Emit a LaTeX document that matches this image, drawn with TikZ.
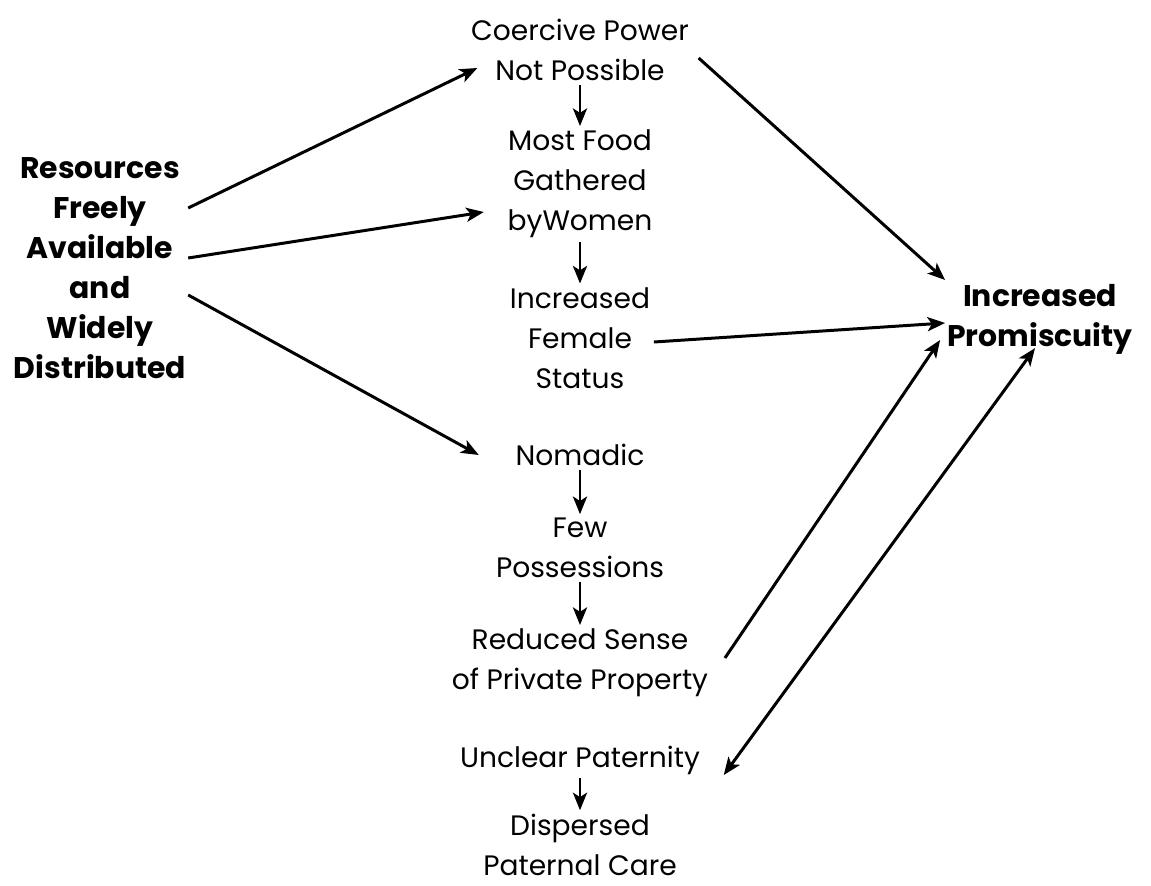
\documentclass[tikz,border=0pt]{standalone}
\usepackage{fontspec}
\setmainfont{Poppins}
\usetikzlibrary{arrows.meta}
\tikzstyle{cause} = [text centered, align=center, inner sep=1pt, font=\bfseries\fontsize{17}{22.8}\selectfont]
\tikzstyle{effect} = [text centered, align=center, inner sep=2pt, font=\fontsize{16}{22.8}\selectfont]
\tikzstyle{arrow} = [line width=1.7pt,->,>={Stealth[length=10pt, width=8pt, inset=2.5pt]}]

\begin{document}
\begin{tikzpicture}[node distance=2cm]
\useasboundingbox (0,0) rectangle (23.02,-17.72);

\node(coer)[effect] at (11.6,-1.0){Coercive Power\\Not Possible};

\node(food)[effect, below of=coer, yshift=-0.68cm]{Most Food\\Gathered\\byWomen};

\draw[arrow](coer) -- (food);

\node(fem)[effect, below of=food, yshift=-1.08cm]{Increased\\Female\\Status};

\draw[arrow](food) -- (fem);

\node(nomad)[effect, below of=fem, yshift=-0.34cm]{Nomadic};

\node(few)[effect, below of=nomad, yshift=0.14cm]{Few\\Possessions};

\draw[arrow](nomad) -- (few);

\node(red)[effect, below of=few, yshift=-0.3cm]{Reduced Sense\\of Private Property};

\draw[arrow](few) -- (red);

\node(uncl)[effect, below of=red, yshift=0.06cm]{Unclear Paternity};

\node(disp)[effect, below of=uncl, yshift=0.3cm]{Dispersed\\Paternal Care};

\draw[arrow](uncl) -- (disp);

\node(res)[cause, left of=fem, xshift=-7.6cm, yshift=1.4cm]{Resources\\Freely\\Available\\and\\Widely\\Distributed};

\draw[arrow]([yshift=1.2cm]res.east) -- ([xshift=0.2cm, yshift=-0.36cm]coer.west);
\draw[arrow]([yshift=0.2cm]res.east) -- ([xshift=-0.4cm, yshift=-0.56cm]food.west);
\draw[arrow]([yshift=-0.54cm]res.east) -- ([xshift=-0.66cm]nomad.west);

\node(prom)[cause, right of=fem, xshift=7.2cm, yshift=0.38cm]{Increased\\Promiscuity};

\draw[arrow]([xshift=0.12cm, yshift=-0.16cm]coer.east) -- ([yshift=0.78cm]prom.west);
\draw[arrow]([yshift=-0.08cm]fem.east) -- ([yshift=-0.08cm]prom.west);
\draw[arrow]([xshift=0.26cm, yshift=0.1cm]red.east) -- ([xshift=-0.1cm, yshift=-0.42cm]prom.west);
\draw[arrow, <->]([xshift=0.4cm, yshift=-0.3cm]uncl.east) -- ([xshift=-0.1cm, yshift=0.16cm]prom.south);

\end{tikzpicture}
\end{document}
